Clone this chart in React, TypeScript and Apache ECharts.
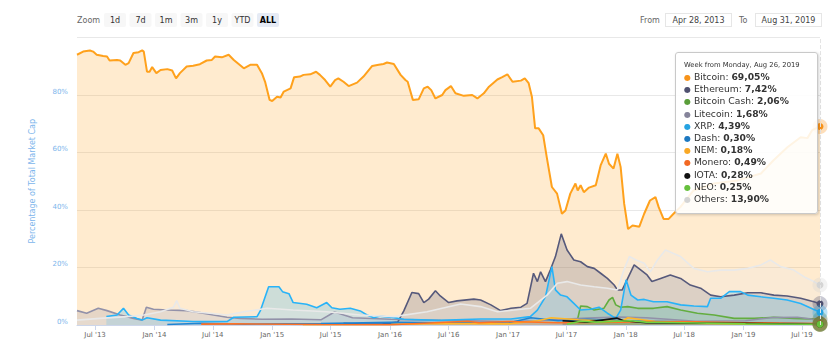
import React, { useEffect, useRef } from 'react';
import * as echarts from 'echarts';

type Pt = [string, number];

const seriesNames = ['Bitcoin', 'Ethereum', 'Bitcoin Cash', 'Litecoin', 'XRP', 'Dash', 'NEM', 'Monero', 'IOTA', 'NEO', 'Others'];
const seriesColors = ['#f7931a', '#4f5170', '#5a9e3a', '#85849a', '#25a3e2', '#1c78c0', '#f9a825', '#f26822', '#111111', '#66c03c', '#d4d4d4'];

const bitcoin: Pt[] = [
  ['2013-05-06', 94.0], ['2013-05-25', 95.1], ['2013-06-15', 95.5], ['2013-06-25', 95.1], ['2013-07-06', 94.0], ['2013-07-26', 93.6],
  ['2013-08-07', 93.4], ['2013-08-15', 92.0], ['2013-09-07', 92.2], ['2013-09-17', 92.0], ['2013-10-03', 90.5], ['2013-10-13', 91.1],
  ['2013-10-28', 94.6], ['2013-11-13', 94.9], ['2013-11-24', 95.5], ['2013-11-29', 95.1], ['2013-12-09', 88.1], ['2013-12-17', 88.1],
  ['2013-12-25', 89.7], ['2014-01-07', 87.6], ['2014-01-20', 88.7], ['2014-02-10', 89.0], ['2014-02-25', 88.5], ['2014-03-09', 85.8],
  ['2014-03-21', 87.6], ['2014-04-11', 89.9], ['2014-05-01', 90.2], ['2014-05-22', 90.7], ['2014-06-12', 92.0], ['2014-06-28', 92.2],
  ['2014-07-08', 93.4], ['2014-07-29', 93.1], ['2014-08-19', 94.0], ['2014-09-04', 92.2], ['2014-10-05', 89.3], ['2014-10-25', 90.5],
  ['2014-11-15', 90.5], ['2014-11-30', 87.6], ['2014-12-10', 84.6], ['2014-12-24', 78.3], ['2015-01-01', 77.9], ['2015-01-16', 79.4],
  ['2015-01-27', 79.1], ['2015-02-06', 81.2], ['2015-02-27', 82.3], ['2015-03-10', 86.2], ['2015-03-28', 86.4], ['2015-04-08', 87.0],
  ['2015-04-29', 87.2], ['2015-05-17', 88.1], ['2015-05-29', 87.0], ['2015-06-14', 85.2], ['2015-06-30', 82.9], ['2015-07-15', 85.2],
  ['2015-07-25', 85.8], ['2015-08-10', 84.6], ['2015-08-26', 83.1], ['2015-09-21', 84.3], ['2015-10-11', 86.4], ['2015-11-07', 90.1],
  ['2015-11-27', 90.5], ['2015-12-12', 90.8], ['2015-12-23', 91.3], ['2016-01-13', 90.8], ['2016-02-03', 87.0], ['2016-02-18', 85.2],
  ['2016-02-25', 84.6], ['2016-03-12', 78.3], ['2016-03-30', 78.5], ['2016-04-15', 82.3], ['2016-04-27', 82.9], ['2016-05-08', 81.7],
  ['2016-05-21', 78.8], ['2016-06-11', 80.0], ['2016-06-21', 81.7], ['2016-07-08', 83.1], ['2016-07-22', 80.6], ['2016-08-17', 79.7],
  ['2016-09-12', 80.0], ['2016-09-28', 78.8], ['2016-10-18', 80.6], ['2016-11-03', 82.9], ['2016-11-29', 85.4], ['2016-12-14', 86.2],
  ['2016-12-30', 87.2], ['2017-01-15', 84.6], ['2017-02-10', 85.0], ['2017-02-22', 85.8], ['2017-03-06', 84.1], ['2017-03-16', 79.4],
  ['2017-03-26', 68.4], ['2017-04-06', 68.4], ['2017-04-20', 66.0], ['2017-05-01', 58.4], ['2017-05-17', 48.0], ['2017-06-02', 45.7],
  ['2017-06-17', 38.7], ['2017-06-28', 39.8], ['2017-07-13', 45.7], ['2017-07-29', 49.2], ['2017-08-05', 46.8], ['2017-08-14', 48.6],
  ['2017-08-24', 46.2], ['2017-09-09', 47.8], ['2017-09-30', 48.6], ['2017-10-15', 55.5], ['2017-10-31', 59.6], ['2017-11-10', 56.1],
  ['2017-11-24', 54.4], ['2017-12-06', 59.6], ['2017-12-16', 55.0], ['2017-12-27', 42.2], ['2018-01-08', 33.4], ['2018-01-22', 34.6],
  ['2018-02-12', 34.2], ['2018-02-27', 38.7], ['2018-03-17', 43.3], ['2018-04-03', 44.5], ['2018-04-13', 41.0], ['2018-04-28', 36.9],
  ['2018-05-14', 36.9], ['2018-05-29', 38.7], ['2018-06-19', 41.0], ['2018-07-30', 46.8], ['2018-10-01', 49.2], ['2018-12-14', 50.3],
  ['2019-02-24', 52.7], ['2019-04-04', 57.3], ['2019-05-17', 61.8], ['2019-06-27', 65.3], ['2019-07-18', 65.0], ['2019-08-02', 67.8],
  ['2019-08-13', 68.4], ['2019-08-26', 69.05],
];

const ethereum: Pt[] = [
  ['2015-08-10', 0.6], ['2015-10-05', 0.3], ['2015-12-07', 0.3], ['2016-01-25', 1.0], ['2016-02-13', 4.9], ['2016-03-09', 11.3],
  ['2016-03-30', 10.9], ['2016-04-15', 7.8], ['2016-04-30', 9.0], ['2016-05-21', 11.9], ['2016-06-05', 10.1], ['2016-07-01', 7.8],
  ['2016-07-27', 8.4], ['2016-09-17', 9.0], ['2016-10-08', 8.7], ['2016-11-09', 7.0], ['2016-12-09', 5.0], ['2017-01-10', 5.8],
  ['2017-02-10', 6.2], ['2017-03-01', 7.5], ['2017-03-21', 18.0], ['2017-04-02', 15.1], ['2017-04-12', 18.5], ['2017-04-27', 15.1],
  ['2017-05-12', 19.1], ['2017-05-28', 23.8], ['2017-06-15', 31.7], ['2017-07-03', 26.1], ['2017-07-24', 22.6], ['2017-08-14', 22.0],
  ['2017-09-04', 20.3], ['2017-09-25', 19.7], ['2017-10-15', 18.0], ['2017-11-05', 16.2], ['2017-11-26', 13.9], ['2017-12-06', 12.2],
  ['2017-12-21', 12.2], ['2018-01-07', 16.2], ['2018-01-27', 20.9], ['2018-02-17', 19.1], ['2018-03-08', 17.4], ['2018-03-23', 15.1],
  ['2018-04-19', 16.2], ['2018-05-19', 17.4], ['2018-06-20', 16.2], ['2018-07-20', 13.9], ['2018-08-21', 12.8], ['2018-09-21', 10.4],
  ['2018-10-22', 9.8], ['2018-12-03', 10.4], ['2019-01-14', 11.2], ['2019-02-24', 11.2], ['2019-04-05', 10.4], ['2019-05-16', 10.1],
  ['2019-06-27', 9.3], ['2019-08-07', 8.1], ['2019-08-26', 7.42],
];

const bitcoinCash: Pt[] = [
  ['2017-08-04', 1.7], ['2017-08-14', 6.6], ['2017-09-04', 6.4], ['2017-09-25', 5.2], ['2017-10-25', 5.8], ['2017-11-10', 8.7],
  ['2017-11-21', 9.6], ['2017-12-01', 7.0], ['2017-12-16', 6.2], ['2018-01-07', 6.4], ['2018-02-07', 5.8], ['2018-03-28', 5.8],
  ['2018-05-09', 6.4], ['2018-06-20', 5.2], ['2018-08-11', 4.1], ['2018-10-02', 3.5], ['2018-12-03', 2.3], ['2019-02-04', 2.3],
  ['2019-04-05', 2.7], ['2019-06-06', 2.3], ['2019-08-26', 2.06],
];

const litecoin: Pt[] = [
  ['2013-05-06', 5.0], ['2013-06-05', 4.1], ['2013-07-11', 5.8], ['2013-08-07', 5.0], ['2013-09-17', 3.5], ['2013-10-28', 2.3],
  ['2013-11-24', 1.7], ['2013-12-07', 6.2], ['2013-12-29', 5.5], ['2014-02-10', 5.2], ['2014-04-11', 5.0], ['2014-05-22', 4.3],
  ['2014-07-03', 3.5], ['2014-08-14', 2.7], ['2014-09-24', 2.3], ['2014-12-01', 2.0], ['2015-03-02', 2.1], ['2015-06-01', 1.8],
  ['2015-07-13', 4.5], ['2015-09-07', 2.5], ['2016-01-04', 2.0], ['2016-06-06', 1.6], ['2017-01-02', 1.2], ['2017-04-03', 1.5],
  ['2017-05-15', 1.8], ['2017-09-04', 2.4], ['2017-12-11', 2.8], ['2018-03-05', 2.5], ['2018-08-06', 1.3], ['2019-01-07', 1.5],
  ['2019-04-01', 2.6], ['2019-06-17', 2.7], ['2019-08-26', 1.68],
];

const xrp: Pt[] = [
  ['2013-08-05', 2.9], ['2013-09-07', 3.5], ['2013-09-27', 5.8], ['2013-10-13', 3.5], ['2013-11-08', 2.3], ['2013-11-24', 1.7],
  ['2013-12-09', 2.5], ['2014-01-20', 1.7], ['2014-05-01', 1.2], ['2014-08-14', 1.2], ['2014-09-04', 2.7], ['2014-11-15', 2.9],
  ['2014-11-25', 4.9], ['2014-12-21', 13.3], ['2015-01-22', 13.3], ['2015-02-02', 11.6], ['2015-02-22', 10.9], ['2015-03-07', 7.8],
  ['2015-04-18', 7.2], ['2015-05-19', 6.0], ['2015-06-19', 7.8], ['2015-07-05', 6.0], ['2015-07-30', 5.5], ['2015-08-31', 5.8],
  ['2015-10-01', 4.9], ['2015-10-22', 3.5], ['2015-11-12', 2.5], ['2015-12-02', 3.1], ['2016-01-13', 2.5], ['2016-02-13', 2.0],
  ['2016-06-01', 1.6], ['2016-10-08', 2.1], ['2017-01-10', 2.1], ['2017-03-11', 2.9], ['2017-04-02', 5.2], ['2017-04-27', 9.8],
  ['2017-05-17', 20.3], ['2017-05-28', 12.2], ['2017-06-13', 10.4], ['2017-07-03', 9.8], ['2017-07-24', 7.5], ['2017-08-14', 5.2],
  ['2017-09-14', 5.5], ['2017-10-10', 6.2], ['2017-11-05', 4.1], ['2017-12-01', 2.3], ['2017-12-16', 5.2], ['2018-01-02', 15.7],
  ['2018-01-17', 10.4], ['2018-02-07', 8.7], ['2018-02-27', 8.9], ['2018-03-28', 8.1], ['2018-05-09', 8.1], ['2018-06-20', 7.0],
  ['2018-07-31', 6.6], ['2018-09-11', 6.4], ['2018-09-21', 9.3], ['2018-10-22', 9.3], ['2018-11-18', 11.6], ['2018-12-23', 11.6],
  ['2019-01-14', 10.4], ['2019-02-24', 9.8], ['2019-04-05', 9.3], ['2019-05-16', 8.7], ['2019-06-27', 7.5], ['2019-08-07', 5.4],
  ['2019-08-26', 4.39],
];

const dash: Pt[] = [
  ['2014-02-10', 0.2], ['2014-05-26', 0.6], ['2014-10-06', 0.3], ['2015-06-01', 0.5], ['2016-01-04', 0.9], ['2016-06-06', 0.8],
  ['2017-01-02', 0.7], ['2017-03-13', 2.5], ['2017-06-05', 1.5], ['2017-09-04', 2.0], ['2017-12-18', 1.5], ['2018-03-05', 1.3],
  ['2018-08-06', 1.0], ['2019-01-07', 0.6], ['2019-05-06', 0.8], ['2019-08-26', 0.30],
];

const nem: Pt[] = [
  ['2015-04-06', 0.1], ['2016-01-04', 0.2], ['2016-06-06', 0.5], ['2017-01-02', 0.4], ['2017-04-03', 1.5], ['2017-05-15', 2.5],
  ['2017-08-07', 1.8], ['2017-12-18', 1.2], ['2018-01-08', 2.5], ['2018-04-02', 1.2], ['2018-08-06', 0.6], ['2019-01-07', 0.4],
  ['2019-08-26', 0.18],
];

const monero: Pt[] = [
  ['2014-05-26', 0.3], ['2014-09-01', 0.4], ['2015-06-01', 0.2], ['2016-01-04', 0.1], ['2016-08-29', 1.3], ['2016-10-03', 0.8],
  ['2017-01-02', 1.2], ['2017-06-05', 0.8], ['2017-12-18', 1.0], ['2018-03-05', 1.2], ['2018-08-06', 1.1], ['2019-01-07', 0.8],
  ['2019-08-26', 0.49],
];

const iota: Pt[] = [
  ['2017-06-19', 1.5], ['2017-09-04', 1.0], ['2017-12-04', 2.4], ['2017-12-25', 1.5], ['2018-03-05', 0.8], ['2018-08-06', 0.6],
  ['2019-01-07', 0.6], ['2019-08-26', 0.28],
];

const neo: Pt[] = [
  ['2017-07-03', 0.3], ['2017-08-14', 1.3], ['2017-10-02', 1.0], ['2018-01-15', 1.5], ['2018-03-05', 1.0], ['2018-08-06', 0.7],
  ['2019-01-07', 0.4], ['2019-08-26', 0.25],
];

const others: Pt[] = [
  ['2013-05-06', 1.7], ['2013-07-16', 2.3], ['2013-10-08', 2.9], ['2013-11-29', 3.5], ['2014-01-20', 4.6], ['2014-03-01', 6.2],
  ['2014-03-11', 8.5], ['2014-03-21', 5.8], ['2014-05-01', 4.6], ['2014-06-22', 4.1], ['2014-08-14', 3.5], ['2014-10-05', 4.6],
  ['2014-12-16', 5.8], ['2015-03-07', 5.2], ['2015-06-19', 4.6], ['2015-10-01', 3.5], ['2016-01-13', 2.9], ['2016-04-25', 4.6],
  ['2016-08-07', 7.3], ['2016-10-08', 6.4], ['2016-11-29', 4.6], ['2017-01-20', 5.2], ['2017-03-11', 5.8], ['2017-05-02', 10.4],
  ['2017-06-03', 14.5], ['2017-07-03', 15.1], ['2017-08-14', 13.9], ['2017-09-25', 13.3], ['2017-11-05', 12.8], ['2017-12-06', 12.2],
  ['2017-12-26', 19.1], ['2018-01-12', 23.8], ['2018-02-02', 22.6], ['2018-02-27', 21.5], ['2018-03-18', 18.5], ['2018-04-09', 22.6],
  ['2018-05-04', 26.1], ['2018-05-29', 24.9], ['2018-06-20', 23.8], ['2018-07-31', 19.7], ['2018-09-11', 18.5], ['2018-10-22', 19.1],
  ['2018-12-03', 19.1], ['2019-01-14', 19.7], ['2019-02-24', 20.9], ['2019-03-25', 22.6], ['2019-04-26', 20.3], ['2019-06-06', 19.1],
  ['2019-07-07', 16.8], ['2019-08-07', 15.1], ['2019-08-26', 13.9],
];

const seriesData: Pt[][] = [bitcoin, ethereum, bitcoinCash, litecoin, xrp, dash, nem, monero, iota, neo, others];

const xTickDates = ['2013-07-01', '2014-01-01', '2014-07-01', '2015-01-01', '2015-07-01', '2016-01-01', '2016-07-01',
  '2017-01-01', '2017-07-01', '2018-01-01', '2018-07-01', '2019-01-01', '2019-07-01'];
const xTickLabels = ["Jul '13", "Jan '14", "Jul '14", "Jan '15", "Jul '15", "Jan '16", "Jul '16",
  "Jan '17", "Jul '17", "Jan '18", "Jul '18", "Jan '19", "Jul '19"];
const yMax = 100;
const yStep = 20;
const zoomButtons = ['1d', '7d', '1m', '3m', '1y', 'YTD', 'ALL'];
const selectedButton = 'ALL';
const rangeFrom = 'Apr 28, 2013';
const rangeTo = 'Aug 31, 2019';
const yTitle = 'Percentage of Total Market Cap';
const monthNames = ['Jan', 'Feb', 'Mar', 'Apr', 'May', 'Jun', 'Jul', 'Aug', 'Sep', 'Oct', 'Nov', 'Dec'];

const FONT = '"DejaVu Sans", "Lucida Grande", Arial, sans-serif';

function ts(s: string): number {
  const [y, m, d] = s.split('-').map(Number);
  return new Date(y, m - 1, d).getTime();
}

function rgba(hex: string, a: number): string {
  const h = hex.replace('#', '');
  const r = parseInt(h.slice(0, 2), 16);
  const g = parseInt(h.slice(2, 4), 16);
  const b = parseInt(h.slice(4, 6), 16);
  return `rgba(${r},${g},${b},${a})`;
}

export default function App() {
  const ref = useRef<HTMLDivElement>(null);

  useEffect(() => {
    document.body.style.margin = '0';
    document.body.style.padding = '0';
    if (!ref.current) return;
    const chart = echarts.init(ref.current, undefined, { renderer: 'svg' });
    const tickTs = xTickDates.map(ts);
    const xMin = ts(bitcoin[0][0]);
    const xMax = ts(bitcoin[bitcoin.length - 1][0]);

    const series = seriesData.map((data, i) => {
      const c = seriesColors[i];
      const lw = i === 0 ? 2 : 1.6;
      return {
        name: seriesNames[i],
        type: 'line',
        data: data.map(([d, v]) => [ts(d), v]),
        showSymbol: false,
        symbol: 'circle',
        symbolSize: 7,
        smooth: false,
        color: c,
        itemStyle: { color: c },
        lineStyle: { color: c, width: lw },
        areaStyle: { color: rgba(c, i === 0 ? 0.3 : 0.33) },
        emphasis: {
          scale: false,
          lineStyle: { width: lw },
          itemStyle: { color: c, borderColor: rgba(c, 0.3), borderWidth: 8 },
        },
        z: 2,
      };
    });

    const graphics: any[] = [];
    graphics.push({
      type: 'text', x: 77, y: 20,
      style: { text: 'Zoom', fill: '#666', font: `8px ${FONT}`, align: 'left', verticalAlign: 'middle' },
    });
    zoomButtons.forEach((b, i) => {
      const cx = 115 + i * 25.5;
      const sel = b === selectedButton;
      graphics.push({
        type: 'rect',
        shape: { x: cx - 11, y: 13, width: 22, height: 14, r: 2 },
        style: { fill: sel ? '#e6ebf5' : '#f7f7f7' },
      });
      graphics.push({
        type: 'text', x: cx, y: 20,
        style: {
          text: b, fill: sel ? '#000' : '#333', font: `${sel ? 'bold ' : ''}8px ${FONT}`,
          align: 'center', verticalAlign: 'middle',
        },
      });
    });
    graphics.push({
      type: 'text', x: 640, y: 20,
      style: { text: 'From', fill: '#666', font: `8px ${FONT}`, align: 'left', verticalAlign: 'middle' },
    });
    graphics.push({
      type: 'rect', shape: { x: 665.5, y: 13.5, width: 66, height: 13 },
      style: { fill: '#fff', stroke: '#cccccc', lineWidth: 1, lineDash: [1, 1] },
    });
    graphics.push({
      type: 'text', x: 698.5, y: 20,
      style: { text: rangeFrom, fill: '#444', font: `8px ${FONT}`, align: 'center', verticalAlign: 'middle' },
    });
    graphics.push({
      type: 'text', x: 739, y: 20,
      style: { text: 'To', fill: '#666', font: `8px ${FONT}`, align: 'left', verticalAlign: 'middle' },
    });
    graphics.push({
      type: 'rect', shape: { x: 755.5, y: 13.5, width: 66, height: 13 },
      style: { fill: '#fff', stroke: '#cccccc', lineWidth: 1, lineDash: [1, 1] },
    });
    graphics.push({
      type: 'text', x: 788.5, y: 20,
      style: { text: rangeTo, fill: '#444', font: `8px ${FONT}`, align: 'center', verticalAlign: 'middle' },
    });

    const option: any = {
      animation: false,
      backgroundColor: '#fff',
      textStyle: { fontFamily: FONT },
      grid: { left: 77, right: 18, top: 37.5, bottom: 19, containLabel: false },
      xAxis: {
        type: 'value',
        min: xMin,
        max: xMax,
        splitLine: { show: false },
        axisLine: { show: true, lineStyle: { color: '#ccd6eb' } },
        axisTick: { show: true, customValues: tickTs, length: 5, lineStyle: { color: '#ccd6eb' } },
        axisLabel: {
          customValues: tickTs,
          color: '#666',
          fontSize: 7,
          fontFamily: FONT,
          margin: 6,
          formatter: (v: number) => {
            let best = -1;
            let bd = Infinity;
            tickTs.forEach((t, i) => {
              const d = Math.abs(t - v);
              if (d < bd) { bd = d; best = i; }
            });
            return best >= 0 && bd < 86400000 * 2 ? xTickLabels[best] : '';
          },
        },
      },
      yAxis: {
        type: 'value',
        min: 0,
        max: yMax,
        interval: yStep,
        name: yTitle,
        nameLocation: 'middle',
        nameGap: 41,
        nameTextStyle: { color: '#7cb5ec', fontSize: 8, fontFamily: FONT },
        axisLine: { show: false },
        axisTick: { show: false },
        axisLabel: {
          color: '#7cb5ec',
          fontSize: 7,
          fontFamily: FONT,
          margin: 9,
          verticalAlign: 'bottom',
          formatter: (v: number) => (v >= yMax ? '' : `${v}%`),
        },
        splitLine: { show: true, lineStyle: { color: '#e8e8e8', width: 1 } },
      },
      tooltip: {
        trigger: 'axis',
        alwaysShowContent: true,
        transitionDuration: 0,
        showDelay: 0,
        position: [675, 52],
        backgroundColor: 'rgba(255,255,255,0.88)',
        borderColor: '#c9c9c9',
        borderWidth: 1,
        borderRadius: 3,
        padding: [7, 8, 8, 8],
        extraCssText: 'box-shadow: 1px 1px 3px rgba(0,0,0,0.18); width: 125px;',
        axisPointer: { type: 'line', lineStyle: { color: '#e4e4e4', width: 1 } },
        formatter: (params: any) => {
          const ps = Array.isArray(params) ? params : [params];
          const d = new Date(ps[0].value[0]);
          const head = `Week from Monday, ${monthNames[d.getMonth()]} ${d.getDate()}, ${d.getFullYear()}`;
          const rows = ps.map((p: any) =>
            `<div style="line-height:11.2px;white-space:nowrap;font-size:9.2px;color:#333;">` +
            `<span style="color:${p.color};font-size:8px;">\u25CF</span> ${p.seriesName}: ` +
            `<b>${Number(p.value[1]).toFixed(2).replace('.', ',')}%</b></div>`
          ).join('');
          return `<div style="font-family:${FONT.replace(/"/g, "'")};">` +
            `<div style="font-size:6.8px;color:#333;line-height:10px;margin-bottom:1px;">${head}</div>${rows}</div>`;
        },
      },
      graphic: graphics,
      series,
    };

    chart.setOption(option);
    chart.dispatchAction({ type: 'showTip', seriesIndex: 0, dataIndex: bitcoin.length - 1 });

    return () => {
      chart.dispose();
    };
  }, []);

  return (
    <div
      ref={ref}
      style={{ position: 'fixed', left: 0, top: 0, width: 838, height: 344, background: '#fff' }}
    />
  );
}
